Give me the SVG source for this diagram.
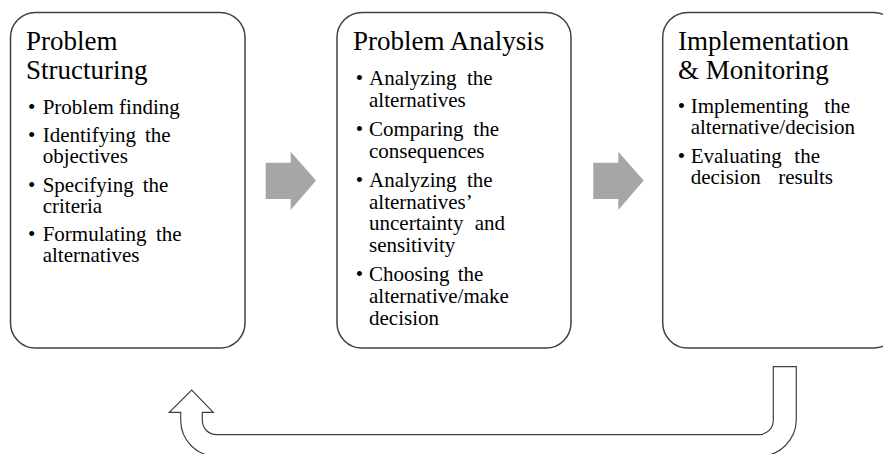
<svg xmlns="http://www.w3.org/2000/svg" width="883" height="454" viewBox="0 0 883 454">
<style>
.box{fill:#fff;stroke:#404040;stroke-width:1.5}
.t{font-family:"Liberation Serif","Times New Roman",serif;font-size:27px;fill:#000}
.b{font-family:"Liberation Serif","Times New Roman",serif;font-size:21px;fill:#000}
.e{text-anchor:end}
.dot{text-anchor:middle}
.flow{fill:#a6a6a6;stroke:none}
.uturn{fill:#fff;stroke:#404040;stroke-width:1.2;stroke-linejoin:miter}
</style>
<rect width="883" height="454" fill="#fff"/>
<g id="connectors">
<path class="flow" d="M265.7,162.7 H290.7 V151.7 L316,180.5 L290.7,210 V199 H265.7 Z"/>
<path class="flow" d="M593.3,162.7 H618.3 V151.7 L643.7,180.5 L618.3,210 V199 H593.3 Z"/>
<path class="uturn" d="M796.3,366.7 H773.3 V420.3 A14.4,14.4 0 0 1 759,434.7 H216.7 A14.4,14.4 0 0 1 202.3,420.3 V412.3 H213.3 L191.7,390 L169.3,412.3 H180.7 V420.3 A36,36 0 0 0 216.7,456.3 H759.3 A37,37 0 0 0 796.3,419.3 Z"/>
</g>
<g id="node-structuring">
<rect class="box" x="10.5" y="12.5" width="234.5" height="335.5" rx="25" ry="25"/>
<text class="t"><tspan x="26" y="50">Problem</tspan><tspan x="26" y="79">Structuring</tspan></text>
<text class="b"><tspan class="dot" x="31.7" y="113.5">•</tspan><tspan x="42.7" y="113.5">Problem finding</tspan></text>
<text class="b"><tspan class="dot" x="31.7" y="142">•</tspan><tspan x="42.7" y="142">Identifying</tspan><tspan class="e" x="170.7" y="142">the</tspan><tspan x="42.7" y="163">objectives</tspan></text>
<text class="b"><tspan class="dot" x="31.7" y="191.5">•</tspan><tspan x="42.7" y="191.5">Specifying</tspan><tspan class="e" x="168.3" y="191.5">the</tspan><tspan x="42.7" y="212.5">criteria</tspan></text>
<text class="b"><tspan class="dot" x="31.7" y="241">•</tspan><tspan x="42.7" y="241">Formulating</tspan><tspan class="e" x="181.7" y="241">the</tspan><tspan x="42.7" y="262">alternatives</tspan></text>
</g>
<g id="node-analysis">
<rect class="box" x="337" y="12.5" width="234" height="335.5" rx="25" ry="25"/>
<text class="t" x="353" y="50">Problem Analysis</text>
<text class="b"><tspan class="dot" x="359.5" y="85">•</tspan><tspan x="369" y="85">Analyzing</tspan><tspan class="e" x="492.7" y="85">the</tspan><tspan x="369" y="106.7">alternatives</tspan></text>
<text class="b"><tspan class="dot" x="359.5" y="136">•</tspan><tspan x="369" y="136">Comparing</tspan><tspan class="e" x="499" y="136">the</tspan><tspan x="369" y="157.7">consequences</tspan></text>
<text class="b"><tspan class="dot" x="359.5" y="187">•</tspan><tspan x="369" y="187">Analyzing</tspan><tspan class="e" x="492.7" y="187">the</tspan><tspan x="369" y="208.7">alternatives’</tspan><tspan x="369" y="230.4">uncertainty</tspan><tspan class="e" x="505" y="230.4">and</tspan><tspan x="369" y="252.1">sensitivity</tspan></text>
<text class="b"><tspan class="dot" x="359.5" y="281.4">•</tspan><tspan x="369" y="281.4">Choosing</tspan><tspan class="e" x="483.3" y="281.4">the</tspan><tspan x="369" y="303.1">alternative/make</tspan><tspan x="369" y="324.8">decision</tspan></text>
</g>
<g id="node-implementation">
<rect class="box" x="662.7" y="12.5" width="236" height="335.5" rx="25" ry="25"/>
<text class="t"><tspan x="678" y="50">Implementation</tspan><tspan x="678" y="79">&amp; Monitoring</tspan></text>
<text class="b"><tspan class="dot" x="681.5" y="113">•</tspan><tspan x="690.7" y="113">Implementing</tspan><tspan class="e" x="850" y="113">the</tspan><tspan x="690.7" y="134">alternative/decision</tspan></text>
<text class="b"><tspan class="dot" x="681.5" y="163">•</tspan><tspan x="690.7" y="163">Evaluating</tspan><tspan class="e" x="820" y="163">the</tspan><tspan x="690.7" y="184">decision</tspan><tspan class="e" x="833" y="184">results</tspan></text>
</g>
</svg>
